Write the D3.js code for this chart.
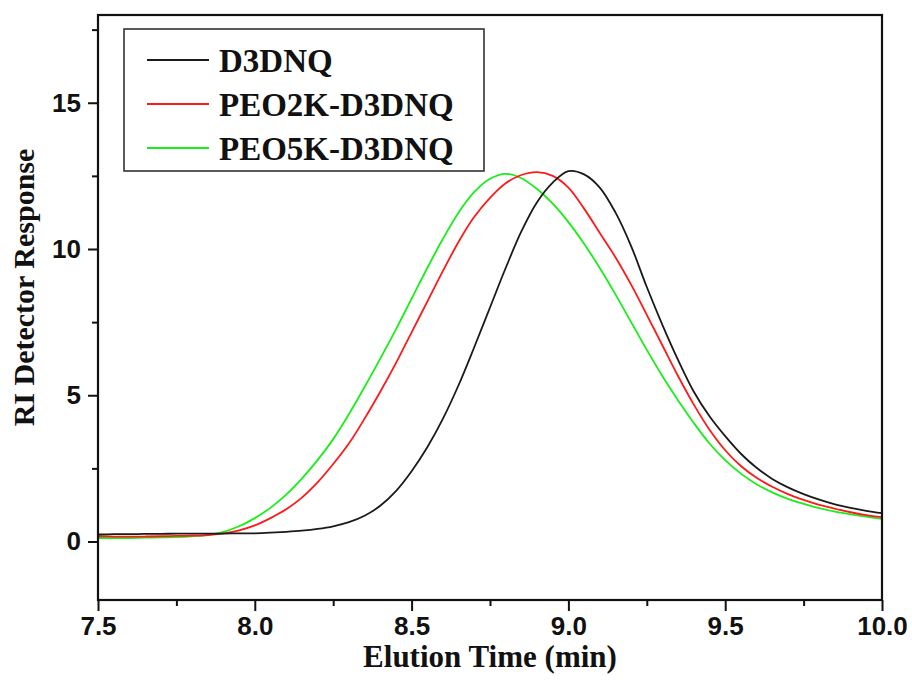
<!DOCTYPE html>
<html>
<head>
<meta charset="utf-8">
<script src="https://cdn.jsdelivr.net/npm/d3@7"></script>
<style>
  body { margin: 0; background: #fff; }
  svg { display: block; }
</style>
</head>
<body>
<svg id="chart" width="912" height="682"></svg>
<script>
/// data ///
// elution time grid (min), 0.05 step
const times = d3.range(0, 51).map(i => +(7.5 + i * 0.05).toFixed(2));

const d3dnq = [
  0.24, 0.25, 0.25, 0.26, 0.26, 0.27, 0.27, 0.27, 0.27, 0.28,
  0.28, 0.30, 0.33, 0.37, 0.43, 0.52, 0.66, 0.88, 1.22, 1.72,
  2.40, 3.22, 4.20, 5.35, 6.65, 8.00, 9.35, 10.60, 11.60, 12.27,
  12.66, 12.55, 12.10, 11.25, 10.10, 8.70, 7.40, 6.20, 5.12, 4.28,
  3.60, 3.00, 2.52, 2.14, 1.85, 1.62, 1.43, 1.27, 1.15, 1.05,
  0.97
];
const peo2k = [
  0.18, 0.17, 0.17, 0.17, 0.18, 0.19, 0.20, 0.22, 0.28, 0.38,
  0.55, 0.80, 1.10, 1.50, 2.02, 2.65, 3.35, 4.20, 5.12, 6.10,
  7.15, 8.20, 9.25, 10.25, 11.10, 11.75, 12.25, 12.53, 12.63, 12.50,
  12.10, 11.38, 10.55, 9.72, 8.78, 7.75, 6.70, 5.65, 4.68, 3.82,
  3.12, 2.58, 2.18, 1.87, 1.62, 1.42, 1.25, 1.12, 1.00, 0.90,
  0.83
];
const peo5k = [
  0.12, 0.12, 0.12, 0.13, 0.14, 0.15, 0.18, 0.23, 0.33, 0.52,
  0.80, 1.15, 1.60, 2.15, 2.78, 3.50, 4.35, 5.28, 6.25, 7.25,
  8.30, 9.35, 10.35, 11.25, 11.95, 12.40, 12.57, 12.42, 12.05, 11.55,
  10.92, 10.18, 9.35, 8.45, 7.50, 6.55, 5.65, 4.82, 4.05, 3.35,
  2.78, 2.32, 1.96, 1.68, 1.46, 1.29, 1.14, 1.02, 0.93, 0.85,
  0.77
];

const seriesNames = ["D3DNQ", "PEO2K-D3DNQ", "PEO5K-D3DNQ"];
const seriesColors = ["#1a1a1a", "#ff1a1a", "#1aee1a"];
const xTicks = [7.5, 8.0, 8.5, 9.0, 9.5, 10.0];
const yTicks = [0, 5, 10, 15];

/// dimensions ///
const margin = {top: 15, right: 30, bottom: 82, left: 98};
const width = 912, height = 682;

const svg = d3.select("#chart");

// scales
const x = d3.scaleLinear().domain([7.5, 10.0]).range([margin.left, width - margin.right]);
const y = d3.scaleLinear().domain([-2, 18]).range([height - margin.bottom, margin.top]);

const serif = "'Liberation Serif', 'Times New Roman', serif";
const sans = "'Liberation Sans', Arial, sans-serif";

// curves - catmull-rom keeps the peaks round
const line = d3.line()
  .x((d, i) => x(times[i]))
  .y(d => y(d))
  .curve(d3.curveCatmullRom.alpha(0.5));

// draw green first so black sits on top, like the original
[peo5k, peo2k, d3dnq].forEach((vals, k) => {
  const idx = 2 - k;
  svg.append("path")
    .attr("d", line(vals))
    .attr("fill", "none")
    .attr("stroke", seriesColors[idx])
    .attr("stroke-width", 1.8);
});

// axes - major + minor ticks, outward
const xAxis = g => g
  .attr("transform", `translate(0,${height - margin.bottom})`)
  .call(d3.axisBottom(x).tickValues(xTicks).tickFormat(d3.format(".1f")).tickSize(11).tickPadding(6))
  .call(g => g.select(".domain").remove());
const xMinor = g => g
  .attr("transform", `translate(0,${height - margin.bottom})`)
  .call(d3.axisBottom(x).tickValues([7.75, 8.25, 8.75, 9.25, 9.75]).tickFormat("").tickSize(6))
  .call(g => g.select(".domain").remove());
const yAxis = g => g
  .attr("transform", `translate(${margin.left},0)`)
  .call(d3.axisLeft(y).tickValues(yTicks).tickSize(10).tickPadding(7))
  .call(g => g.select(".domain").remove());
const yMinor = g => g
  .attr("transform", `translate(${margin.left},0)`)
  .call(d3.axisLeft(y).tickValues([2.5, 7.5, 12.5, 17.5]).tickFormat("").tickSize(6))
  .call(g => g.select(".domain").remove());

svg.append("g").call(xMinor);
svg.append("g").call(yMinor);
svg.append("g").call(xAxis);
svg.append("g").call(yAxis);

svg.selectAll(".tick line").attr("stroke", "#111").attr("stroke-width", 2);
svg.selectAll(".tick text")
  .attr("font-family", sans)
  .attr("font-weight", "bold")
  .attr("font-size", 26)
  .attr("fill", "#111");

// frame
svg.append("rect")
  .attr("x", margin.left)
  .attr("y", margin.top)
  .attr("width", width - margin.left - margin.right)
  .attr("height", height - margin.top - margin.bottom)
  .attr("fill", "none")
  .attr("stroke", "#111")
  .attr("stroke-width", 2.2);

// axis titles
svg.append("text")
  .attr("x", (margin.left + width - margin.right) / 2)
  .attr("y", 667)
  .attr("text-anchor", "middle")
  .attr("font-family", serif)
  .attr("font-weight", "bold")
  .attr("font-size", 31)
  .attr("fill", "#111")
  .text("Elution Time (min)");

svg.append("text")
  .attr("transform", `translate(34,${(margin.top + height - margin.bottom) / 2 - 20}) rotate(-90)`)
  .attr("text-anchor", "middle")
  .attr("font-family", serif)
  .attr("font-weight", "bold")
  .attr("font-size", 30)
  .attr("fill", "#111")
  .text("RI Detector Response");

// legend
const legend = svg.append("g").attr("transform", "translate(124,29)");
legend.append("rect")
  .attr("width", 360).attr("height", 142)
  .attr("fill", "#fff")
  .attr("stroke", "#333")
  .attr("stroke-width", 1.6);
seriesNames.forEach((name, i) => {
  const cy = 31 + i * 44;
  legend.append("line")
    .attr("x1", 23).attr("x2", 85)
    .attr("y1", cy).attr("y2", cy)
    .attr("stroke", seriesColors[i])
    .attr("stroke-width", 1.8);
  legend.append("text")
    .attr("x", 95).attr("y", cy + 12)
    .attr("font-family", serif)
    .attr("font-weight", "bold")
    .attr("font-size", 33)
    .attr("fill", "#111")
    .text(name);
});
</script>
</body>
</html>
